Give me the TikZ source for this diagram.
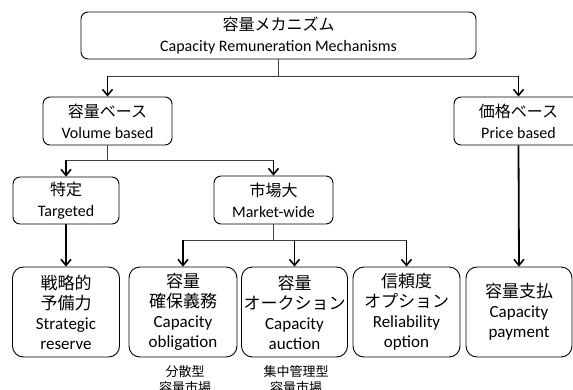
\documentclass[tikz,border=0pt]{standalone}
\usepackage{fontspec}
\setmainfont{Carlito}
\newfontfamily\jp{Noto Sans CJK JP}
\usetikzlibrary{arrows.meta}
\begin{document}
\begin{tikzpicture}[x=1pt,y=-1pt,
  box/.style={draw=black,line width=0.9pt,rounded corners=7pt,align=center,inner sep=0pt,
    font=\fontsize{16}{21}\selectfont},
  bigbox/.style={box,rounded corners=11pt,minimum height=90pt,
    font=\fontsize{17}{20}\selectfont},
  bar/.style={draw=black!75,line width=1pt},
  arr/.style={draw=black,line width=1.8pt,-{Straight Barb[length=6pt,width=10pt,line width=1.6pt]}},
  note/.style={align=center,inner sep=0pt,font=\jp\fontsize{13}{16}\selectfont}]
\useasboundingbox (0,0) rectangle (573,389);
\clip (0,0) rectangle (573,389);
% nodes
\node[box,minimum width=395pt,minimum height=47pt] (top) at (278.5,35.5)
  {{\jp 容量メカニズム}\\Capacity Remuneration Mechanisms};
\node[box,minimum width=129pt,minimum height=48pt] (vol) at (107.5,121)
  {{\jp 容量ベース}\\Volume based};
\node[box,minimum width=129pt,minimum height=48pt] (price) at (518.5,121)
  {{\jp 価格ベース}\\Price based};
\node[box,minimum width=106pt,minimum height=47pt] (targ) at (66,200.5)
  {{\jp 特定}\\Targeted};
\node[box,minimum width=119pt,minimum height=48pt] (mkt) at (273.5,200)
  {{\jp 市場大}\\Market-wide};
\node[bigbox,minimum width=107pt] (strat) at (66,312)
  {{\jp 戦略的}\\{\jp 予備力}\\Strategic\\reserve};
\node[bigbox,minimum width=108pt] (oblig) at (183,312)
  {{\jp 容量}\\{\jp 確保義務}\\Capacity\\obligation};
\node[bigbox,minimum width=106pt] (auct) at (294.5,312)
  {{\jp 容量}\\{\jp オークション}\\Capacity\\auction};
\node[bigbox,minimum width=107pt] (rel) at (406.5,312)
  {{\jp 信頼度}\\{\jp オプション}\\Reliability\\option};
\node[bigbox,minimum width=106pt] (pay) at (519,312)
  {{\jp 容量支払}\\Capacity\\payment};
\node[note] (n1) at (185,380) {分散型\\容量市場};
\node[note] (n2) at (296,380) {集中管理型\\容量市場};
% connectors level 1
\coordinate (b1) at (278.5,76);
\draw[bar] (top.south) -- (b1);
\draw[bar] (vol.north |- b1) -- (price.north |- b1);
\draw[arr] (vol.north |- b1) -- (vol.north);
\draw[arr] (price.north |- b1) -- (price.north);
% level 2
\coordinate (b2) at (107.5,160);
\draw[bar] (vol.south) -- (b2);
\draw[bar] (targ.north |- b2) -- (mkt.north |- b2);
\draw[arr] (targ.north |- b2) -- (targ.north);
\draw[arr] (mkt.north |- b2) -- (mkt.north);
% level 3
\draw[arr] (targ.south) -- (strat.north);
\draw[arr] (price.south) -- (pay.north);
\coordinate (b3) at (273.5,240);
\draw[bar] (mkt.south) -- (b3);
\draw[bar] (oblig.north |- b3) -- (rel.north |- b3);
\draw[arr] (oblig.north |- b3) -- (oblig.north);
\draw[arr] (auct.north |- b3) -- (auct.north);
\draw[arr] (rel.north |- b3) -- (rel.north);
\end{tikzpicture}
\end{document}
